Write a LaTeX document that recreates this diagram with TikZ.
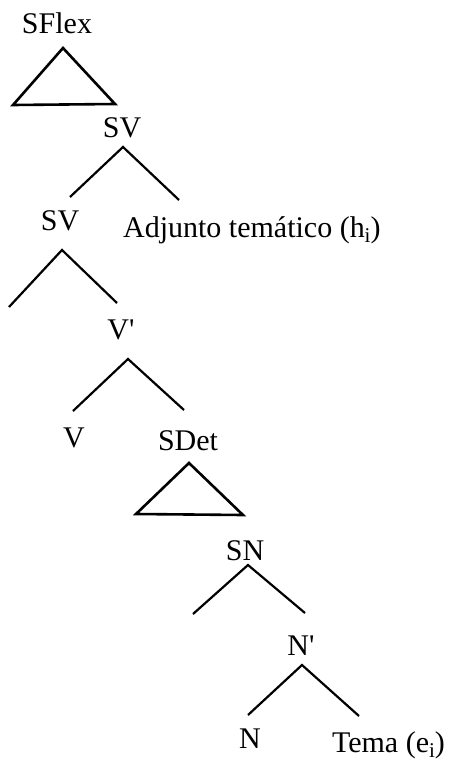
\documentclass[tikz,border=0pt]{standalone}
\usepackage{fontspec}
\setmainfont{Liberation Serif}
\newfontfamily\plainserif{Liberation Serif}
\newcommand{\lowsub}[1]{\raisebox{-0.18em}{\fontsize{21}{21}\selectfont #1}}
\newcommand{\barmark}{{\plainserif\char"27}}

\begin{document}
\begin{tikzpicture}[x=1pt,y=-1pt,line width=2.2pt,
  lbl/.style={anchor=base,inner sep=0pt,font=\fontsize{30}{36}\selectfont},
  roof/.style={line width=2.6pt,line join=miter}]
  \useasboundingbox (0,0) rectangle (451,763);

  % labels
  \node[lbl] (sflex) at (57,33) {SFlex};
  \node[lbl] (sv) at (122,137) {SV};
  \node[lbl] (svlow) at (60,230) {SV};
  \node[lbl,anchor=base west] (adj) at (122,237) {Adjunto temático (h\lowsub{i})};
  \node[lbl] (vbar) at (121,339) {V\barmark};
  \node[lbl] (v) at (74,447) {V};
  \node[lbl] (sdet) at (188,450) {SDet};
  \node[lbl] (sn) at (245,560) {SN};
  \node[lbl] (nbar) at (301,655) {N\barmark};
  \node[lbl] (n) at (250,748) {N};
  \node[lbl,anchor=base east] (tema) at (446,752) {Tema (e\lowsub{i})};

  % branch points
  \coordinate (sflex-a) at (63,48);
  \coordinate (sflex-l) at (13,105);
  \coordinate (sflex-r) at (115,104);
  \coordinate (sv-a) at (123,147);
  \coordinate (sv-l) at (70,197);
  \coordinate (sv-r) at (179,200);
  \coordinate (svlow-a) at (62,250);
  \coordinate (svlow-l) at (9,307);
  \coordinate (svlow-r) at (117,303);
  \coordinate (vbar-a) at (128,359);
  \coordinate (vbar-l) at (73,411);
  \coordinate (vbar-r) at (184,410);
  \coordinate (sdet-a) at (189,463);
  \coordinate (sdet-l) at (136,514);
  \coordinate (sdet-r) at (243,515);
  \coordinate (sn-a) at (248,565);
  \coordinate (sn-l) at (193,614);
  \coordinate (sn-r) at (305,613);
  \coordinate (nbar-a) at (302,665);
  \coordinate (nbar-l) at (248,715);
  \coordinate (nbar-r) at (359,716);

  % roofs
  \draw[roof] (sflex-a) -- (sflex-l) -- (sflex-r) -- cycle;
  \draw[roof] (sdet-a) -- (sdet-l) -- (sdet-r) -- cycle;

  % branches
  \draw (sv-l) -- (sv-a) -- (sv-r);
  \draw (svlow-l) -- (svlow-a) -- (svlow-r);
  \draw (vbar-l) -- (vbar-a) -- (vbar-r);
  \draw (sn-l) -- (sn-a) -- (sn-r);
  \draw (nbar-l) -- (nbar-a) -- (nbar-r);
\end{tikzpicture}
\end{document}
